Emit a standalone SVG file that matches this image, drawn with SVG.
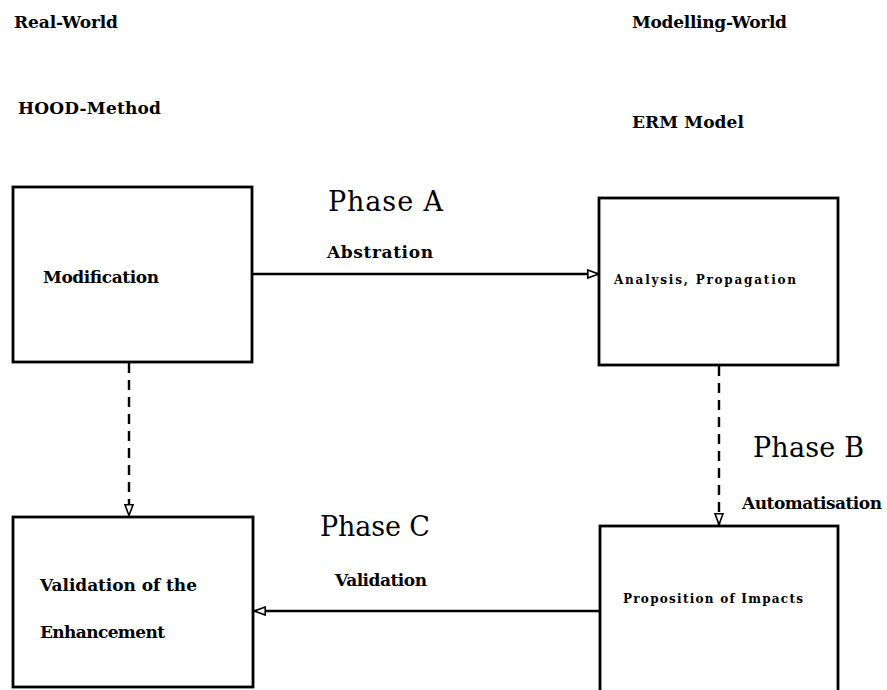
<svg xmlns="http://www.w3.org/2000/svg" width="887" height="690" viewBox="0 0 887 690">
<style>
.box{fill:#fff;stroke:#000;stroke-width:2.8}
.lbl{font-family:"DejaVu Serif","Liberation Serif",serif;font-weight:bold;fill:#000;font-size:17px}
.sm{font-size:12px}
.ph{font-family:"DejaVu Serif","Liberation Serif",serif;font-weight:normal;font-size:27px;fill:#000}
.con{fill:none;stroke:#000;stroke-width:2.4}
.dash{stroke-dasharray:10,7}
</style>
<defs>
<marker id="arr" viewBox="0 0 12 10" refX="12" refY="5" markerWidth="12" markerHeight="10" markerUnits="userSpaceOnUse" orient="auto">
<path d="M0.8,1 L11.5,5 L0.8,9 Z" fill="#fff" stroke="#000" stroke-width="1.6"/>
</marker>
</defs>
<rect width="887" height="690" fill="#fff"/>
<text class="lbl" x="14" y="28" textLength="104">Real-World</text>
<text class="lbl" x="18" y="114" textLength="143">HOOD-Method</text>
<text class="lbl" x="632" y="28" textLength="155">Modelling-World</text>
<text class="lbl" x="632" y="128" textLength="112">ERM Model</text>
<g id="connectors">
<line class="con" x1="252" y1="274" x2="599" y2="274" marker-end="url(#arr)"/>
<line class="con" x1="600" y1="611" x2="254" y2="611" marker-end="url(#arr)"/>
<line class="con dash" x1="129" y1="363" x2="129" y2="516" marker-end="url(#arr)"/>
<line class="con dash" x1="719" y1="366" x2="719" y2="525" marker-end="url(#arr)"/>
<text class="ph" x="328" y="211" textLength="115">Phase A</text>
<text class="lbl" x="327" y="258" textLength="106">Abstration</text>
<text class="ph" x="753" y="457" textLength="111">Phase B</text>
<text class="lbl" x="742" y="509" textLength="140">Automatisation</text>
<text class="ph" x="320" y="536" textLength="110">Phase C</text>
<text class="lbl" x="335" y="586" textLength="92">Validation</text>
</g>
<g id="modification">
<rect class="box" x="13" y="187" width="239" height="175"/>
<text class="lbl" x="43" y="283" textLength="116">Modification</text>
</g>
<g id="analysis">
<rect class="box" x="599" y="198" width="239" height="167"/>
<text class="lbl sm" x="614" y="284" textLength="182">Analysis, Propagation</text>
</g>
<g id="validation">
<rect class="box" x="13" y="517" width="240" height="170"/>
<text class="lbl" x="40" y="591" textLength="157">Validation of the</text>
<text class="lbl" x="40" y="638" textLength="125">Enhancement</text>
</g>
<g id="proposition">
<rect class="box" x="600" y="526" width="238" height="180"/>
<text class="lbl sm" x="623" y="603" textLength="180">Proposition of Impacts</text>
</g>
</svg>
